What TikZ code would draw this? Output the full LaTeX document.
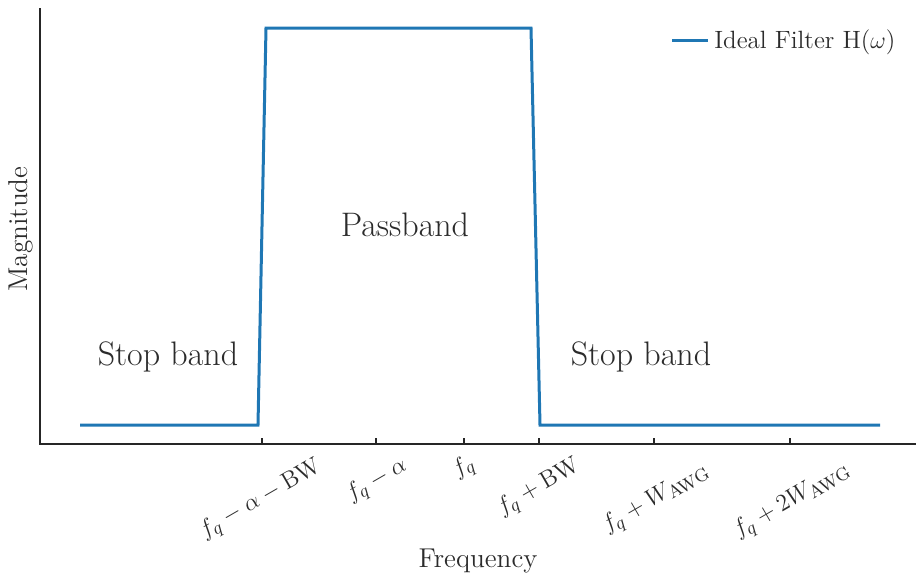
\documentclass[tikz,border=0pt]{standalone}
\usepackage{amsmath}
\usetikzlibrary{positioning}

\begin{document}
\begin{tikzpicture}[x=0.5pt, y=-0.5pt,
  eixo/.style={line width=0.75pt, black!85},
  curva/.style={line width=1.5pt, filtro},
  rotulo/.style={font=\fontsize{12.2}{14}\selectfont, rotate=30, text=texto, inner sep=0pt},
  banda/.style={font=\fontsize{17}{20}\selectfont, text=texto},
  titulo/.style={font=\fontsize{13.6}{16}\selectfont, text=texto}]
% --- cores ---
\definecolor{filtro}{HTML}{1F77B4}
\definecolor{texto}{HTML}{2B2B2B}

\useasboundingbox (0,0) rectangle (916,578);

% LAYER 1: eixos
\coordinate (topo) at (40,8);
\coordinate (origem) at (40,444);
\coordinate (fim) at (916,444);
\draw[eixo] (topo) -- (origem) -- (fim);

% LAYER 2: marcas do eixo x
\foreach \x in {262,376,464,539,654,790}
  \draw[eixo] (\x,444) -- (\x,438);

% LAYER 3: rotulos das marcas
\node[rotulo] (tkA) at (261,500) {$f_q - \alpha - \mathrm{BW}$};
\node[rotulo] (tkB) at (377,481) {$f_q - \alpha$};
\node[rotulo] (tkC) at (464,468) {$f_q$};
\node[rotulo] (tkD) at (539,488) {$f_q + \mathrm{BW}$};
\node[rotulo] (tkE) at (656,499) {$f_q + W_{\mathrm{AWG}}$};
\node[rotulo] (tkF) at (792,501) {$f_q + 2W_{\mathrm{AWG}}$};

% LAYER 4: resposta do filtro ideal
\coordinate (p0) at (80,425);
\coordinate (p1) at (258,425);
\coordinate (p2) at (266,28);
\coordinate (p3) at (531,28);
\coordinate (p4) at (540,425);
\coordinate (p5) at (880,425);
\draw[curva, line join=miter] (p0) -- (p1) -- (p2) -- (p3) -- (p4) -- (p5);

% LAYER 5: regioes
\node[banda] (stopA) at (168,357) {Stop band};
\node[banda] (pass) at (405,225) {Passband};
\node[banda] (stopB) at (641,357) {Stop band};

% LAYER 6: titulos dos eixos
\node[titulo] (freq) at (478,561) {Frequency};
\node[titulo, rotate=90] (mag) at (21,229) {Magnitude};

% LAYER 7: legenda
\coordinate (legA) at (672,40);
\coordinate (legB) at (708,40);
\draw[curva] (legA) -- (legB);
\node[font=\fontsize{12.5}{14}\selectfont, text=texto, anchor=west, inner sep=0pt] (leg) at (714,42) {Ideal Filter H($\omega$)};
\end{tikzpicture}
\end{document}
